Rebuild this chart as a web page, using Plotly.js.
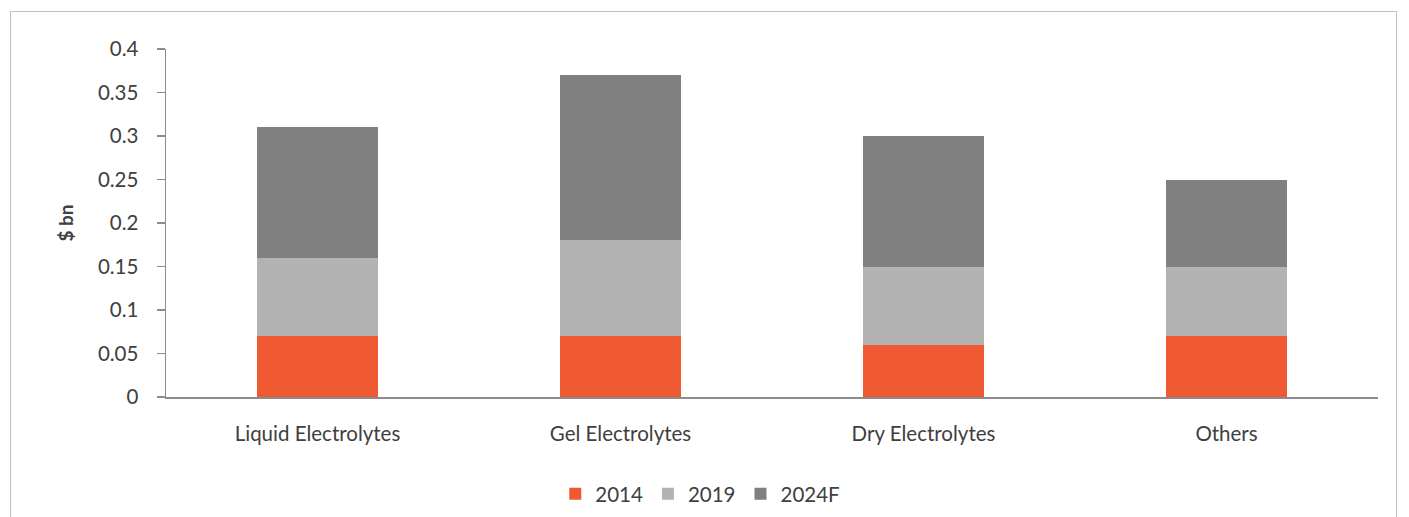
<!DOCTYPE html>
<html>
<head>
<meta charset="utf-8">
<script src="https://cdn.plot.ly/plotly-3.0.1.min.js"></script>
<style>
  html, body { margin: 0; padding: 0; background: #ffffff; }
  #chart { width: 1409px; height: 517px; position: absolute; left: 0; top: 0; }
  #frame { position: absolute; left: 10px; top: 11px; width: 1387px; height: 520px;
           border: 1.5px solid #c0c0c0; pointer-events: none; box-sizing: border-box; }
</style>
</head>
<body>
<div id="chart"></div>
<div id="frame"></div>
<script>
const categories = ["Liquid Electrolytes", "Gel Electrolytes", "Dry Electrolytes", "Others"];
const seriesNames = ["2014", "2019", "2024F"];
const values2014 = [0.07, 0.07, 0.06, 0.07];
const values2019 = [0.09, 0.11, 0.09, 0.08];
const values2024F = [0.15, 0.19, 0.15, 0.10];
const yTickValues = [0, 0.05, 0.1, 0.15, 0.2, 0.25, 0.3, 0.35, 0.4];
const yTickLabels = ["0", "0.05", "0.1", "0.15", "0.2", "0.25", "0.3", "0.35", "0.4"];

const colors = ["#f05a32", "#b3b3b3", "#808080"];
const allValues = [values2014, values2019, values2024F];
const fontFamily = "Lato, 'Open Sans', sans-serif";

const traces = allValues.map((vals, i) => ({
  type: "bar",
  name: seriesNames[i],
  x: categories,
  y: vals,
  marker: { color: colors[i], line: { width: 0 } },
  hoverinfo: "x+y+name"
}));

const layout = {
  width: 1409,
  height: 517,
  barmode: "stack",
  bargap: 0.6,
  paper_bgcolor: "rgba(0,0,0,0)",
  plot_bgcolor: "#ffffff",
  margin: { l: 166, r: 31, t: 49, b: 119.5, pad: 0, autoexpand: false },
  font: { family: fontFamily, color: "#404040", size: 20 },
  xaxis: {
    type: "category",
    showline: true,
    linecolor: "#8c8c8c",
    linewidth: 2,
    ticks: "",
    showgrid: false,
    zeroline: false,
    ticklabelstandoff: 17,
    tickfont: { family: fontFamily, size: 20.5, color: "#404040" }
  },
  yaxis: {
    range: [0, 0.4],
    tickvals: yTickValues,
    ticktext: yTickLabels,
    showline: true,
    linecolor: "#8c8c8c",
    linewidth: 1.5,
    ticks: "outside",
    ticklen: 8,
    tickcolor: "#8c8c8c",
    tickwidth: 1.5,
    showgrid: false,
    zeroline: false,
    ticklabelstandoff: 14,
    tickfont: { family: fontFamily, size: 20.5, color: "#404040" },
    title: { text: "<b>$ bn</b>", standoff: 19, font: { family: fontFamily, size: 19, color: "#404040" } }
  },
  legend: {
    orientation: "h",
    x: 0.497,
    xanchor: "center",
    xref: "container",
    y: 0.0445,
    yanchor: "middle",
    yref: "container",
    font: { family: fontFamily, size: 20.5, color: "#404040" },
    itemwidth: 30,
    traceorder: "normal"
  },
  showlegend: true
};

Plotly.newPlot("chart", traces, layout, { displayModeBar: false, staticPlot: true });
</script>
</body>
</html>
